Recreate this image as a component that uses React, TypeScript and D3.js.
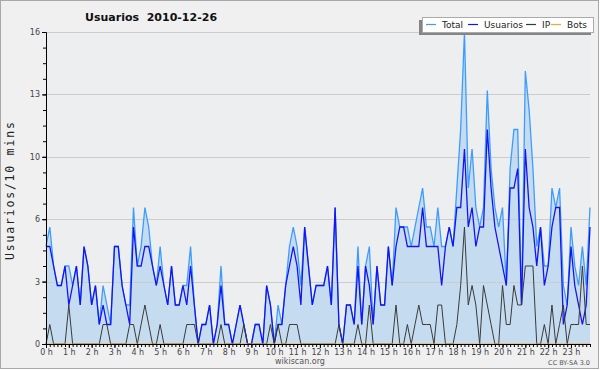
import { useEffect, useRef } from 'react';
import * as d3 from 'd3';

// one value per 10 minutes, 0h00 .. 23h50
const total = [
  5, 6, 4, 3, 3, 4, 4, 3, 4, 2, 5, 4,
  2, 3, 1, 3, 2, 1, 5, 5, 3, 2, 2, 7,
  4, 5, 7, 6, 4, 3, 5, 3, 2, 4, 2, 2,
  3, 3, 5, 2, 0, 1, 1, 2, 0, 1, 4, 1,
  1, 0, 1, 2, 1, 0, 0, 1, 1, 0, 3, 2,
  0, 2, 1, 3, 5, 6, 5, 3, 6, 4, 2, 3,
  3, 3, 4, 2, 7, 1, 0, 2, 2, 1, 5, 1,
  4, 5, 1, 4, 2, 2, 5, 3, 7, 6, 6, 6,
  5, 6, 7, 8, 6, 6, 5, 7, 5, 5, 6, 5,
  8, 11, 16, 8, 10, 7, 6, 7, 13, 9, 7, 6,
  7, 3, 9, 11, 11, 2, 14, 12, 9, 5, 6, 4,
  4, 8, 7, 8, 3, 2, 6, 4, 3, 5, 3, 7,
];
const usuarios = [
  5, 5, 4, 3, 3, 4, 2, 3, 4, 2, 5, 4,
  2, 3, 1, 2, 1, 1, 5, 5, 3, 2, 1, 6,
  4, 4, 5, 5, 4, 3, 4, 3, 2, 4, 2, 2,
  3, 2, 4, 2, 0, 1, 1, 2, 0, 1, 3, 1,
  1, 0, 1, 2, 1, 0, 0, 1, 1, 0, 3, 2,
  0, 1, 1, 3, 4, 5, 4, 2, 6, 4, 2, 3,
  3, 3, 4, 2, 7, 1, 0, 2, 2, 1, 4, 1,
  4, 3, 1, 4, 2, 2, 5, 3, 5, 6, 6, 5,
  5, 5, 5, 7, 5, 5, 5, 5, 3, 5, 6, 5,
  7, 7, 10, 6, 7, 5, 6, 6, 11, 8, 6, 5,
  4, 3, 8, 8, 9, 2, 10, 7, 6, 4, 6, 3,
  4, 6, 7, 7, 1, 2, 5, 3, 2, 1, 2, 6,
];
const ip = [
  0, 1, 0, 0, 0, 0, 2, 0, 0, 0, 0, 0,
  0, 0, 0, 1, 1, 0, 0, 0, 0, 0, 1, 1,
  0, 1, 2, 1, 0, 0, 1, 0, 0, 0, 0, 0,
  0, 1, 1, 1, 0, 0, 0, 0, 0, 0, 1, 0,
  0, 0, 0, 0, 1, 0, 0, 0, 0, 0, 0, 1,
  0, 1, 0, 0, 1, 1, 1, 0, 0, 0, 0, 0,
  0, 0, 0, 0, 0, 1, 0, 0, 0, 0, 1, 0,
  0, 2, 0, 0, 0, 0, 0, 0, 2, 0, 0, 1,
  0, 1, 2, 1, 1, 1, 0, 2, 2, 0, 0, 0,
  1, 3, 6, 2, 3, 2, 0, 3, 2, 1, 0, 0,
  3, 1, 1, 3, 2, 2, 4, 4, 4, 0, 0, 1,
  0, 2, 0, 1, 2, 0, 1, 1, 1, 4, 1, 1,
];
const bots = [
  0, 0, 0, 0, 0, 0, 0, 0, 0, 0, 0, 0,
  0, 0, 0, 0, 0, 0, 0, 0, 0, 0, 0, 0,
  0, 0, 0, 0, 0, 0, 0, 0, 0, 0, 0, 0,
  0, 0, 0, 0, 0, 0, 0, 0, 0, 0, 0, 0,
  0, 0, 0, 0, 0, 0, 0, 0, 0, 0, 0, 0,
  0, 0, 0, 0, 0, 0, 0, 0, 0, 0, 0, 0,
  0, 0, 0, 0, 0, 0, 0, 0, 0, 0, 0, 0,
  0, 0, 0, 0, 0, 0, 0, 0, 0, 0, 0, 0,
  0, 0, 0, 0, 0, 0, 0, 0, 0, 0, 0, 0,
  0, 0, 0, 0, 0, 0, 0, 0, 0, 0, 0, 0,
  0, 0, 0, 0, 0, 0, 0, 0, 0, 0, 0, 0,
  0, 0, 0, 0, 0, 0, 0, 0, 0, 0, 0, 0,
];

const hourLabels = [
  '0 h', '1 h', '2 h', '3 h', '4 h', '5 h', '6 h', '7 h', '8 h', '9 h', '10 h', '11 h',
  '12 h', '13 h', '14 h', '15 h', '16 h', '17 h', '18 h', '19 h', '20 h', '21 h', '22 h', '23 h',
];
const yMajor = [0, 3.2, 6.4, 9.6, 12.8, 16];

const legend = [
  { name: 'Total', color: '#3d9cff' },
  { name: 'Usuarios', color: '#1414f0' },
  { name: 'IP', color: '#3a3a3a' },
  { name: 'Bots', color: '#ffa42a' },
];

const FONT = '"DejaVu Sans", Verdana, sans-serif';

export default function App() {
  const width = 600;
  const height = 370;
  const marginLeft = 46;
  const marginRight = 10;
  const marginTop = 32;
  const marginBottom = 26;

  const x = d3.scaleLinear().domain([0, total.length - 1]).range([marginLeft, width - marginRight]);
  const y = d3.scaleLinear().domain([0, 16]).range([height - marginBottom, marginTop]);

  const area = d3.area<number>().x((d, i) => x(i)).y0(y(0)).y1(d => y(d));
  const line = d3.line<number>().x((d, i) => x(i)).y(d => y(d));

  const gx = useRef<SVGGElement>(null);
  const gxMinor = useRef<SVGGElement>(null);
  const gy = useRef<SVGGElement>(null);
  const gyMinor = useRef<SVGGElement>(null);

  useEffect(() => {
    if (gy.current) {
      const g = d3.select(gy.current);
      g.call(d3.axisLeft(y).tickValues(yMajor).tickSize(4).tickSizeOuter(0).tickPadding(2).tickFormat(d3.format('.0f')));
      g.attr('font-family', FONT).attr('font-size', 8);
      g.selectAll('text').attr('fill', '#444');
    }
    if (gyMinor.current) {
      d3.select(gyMinor.current)
        .call(d3.axisLeft(y).tickValues(d3.range(0, 16.01, 0.8)).tickSize(3).tickSizeOuter(0).tickFormat(() => ''));
    }
    if (gx.current) {
      const hours = hourLabels.map((_, i) => i * 6);
      const g = d3.select(gx.current);
      g.call(d3.axisBottom(x).tickValues(hours).tickSize(4).tickSizeOuter(0).tickPadding(1)
        .tickFormat((_, i) => hourLabels[i]));
      g.attr('font-family', FONT).attr('font-size', 8);
      g.selectAll('text').attr('fill', '#444');
    }
    if (gxMinor.current) {
      d3.select(gxMinor.current)
        .call(d3.axisBottom(x).tickValues(d3.range(0, total.length)).tickSize(3).tickSizeOuter(0).tickFormat(() => ''));
    }
  }, [x, y]);

  return (
    <svg width={width} height={height} style={{ position: 'absolute', left: 0, top: 0 }}>
      <rect x={0.5} y={0.5} width={width - 2} height={height - 2} fill="#f0f0f0" stroke="#a8a8a8" />
      <rect x={marginLeft} y={marginTop} width={width - marginLeft - marginRight} height={height - marginTop - marginBottom} fill="#edeef0" />

      <path d={area(total) ?? ''} fill="#c5dcf0" />
      {yMajor.slice(1).map(v => (
        <line key={v} x1={marginLeft} x2={width - marginRight} y1={Math.round(y(v)) + 0.5} y2={Math.round(y(v)) + 0.5} stroke="#cccccc" />
      ))}

      <path d={line(total) ?? ''} fill="none" stroke={legend[0].color} strokeWidth={1.3} />
      <path d={line(usuarios) ?? ''} fill="none" stroke={legend[1].color} strokeWidth={1.3} />
      <path d={line(ip) ?? ''} fill="none" stroke={legend[2].color} strokeWidth={1} />
      <path d={line(bots) ?? ''} fill="none" stroke={legend[3].color} strokeWidth={1} />

      <g ref={gyMinor} transform={`translate(${marginLeft},0)`}></g>
      <g ref={gy} transform={`translate(${marginLeft},0)`}></g>
      <g ref={gxMinor} transform={`translate(0,${height - marginBottom})`}></g>
      <g ref={gx} transform={`translate(0,${height - marginBottom})`}></g>

      <text x={85} y={21} fontFamily={FONT} fontSize={11} fontWeight="bold" fill="#111" style={{ whiteSpace: 'pre' }}>
        {'Usuarios  2010-12-26'}
      </text>
      <text
        transform={`translate(14,191) rotate(-90)`}
        textAnchor="middle"
        fontFamily='"DejaVu Sans Mono", monospace'
        fontSize={11.5}
        textLength={138}
        lengthAdjust="spacing"
        fill="#222"
      >
        Usuarios/10 mins
      </text>
      <text x={300} y={364} textAnchor="middle" fontFamily={FONT} fontSize={8} fill="#555">wikiscan.org</text>
      <text x={590} y={365} textAnchor="end" fontFamily={FONT} fontSize={6.5} fill="#555">CC BY-SA 3.0</text>

      <g>
        <rect x={419} y={20} width={172} height={15} fill="#858585" />
        <rect x={422.5} y={17.5} width={171} height={15} fill="#ffffff" stroke="#aaaaaa" />
        {legend.map((d, i) => {
          const starts = [426, 468, 526, 551];
          const x0 = starts[i];
          return (
            <g key={d.name}>
              <line x1={x0} x2={x0 + 10} y1={24.5} y2={24.5} stroke={d.color} strokeWidth={1.2} />
              <text x={x0 + 16} y={28} fontFamily={FONT} fontSize={9} fill="#222">{d.name}</text>
            </g>
          );
        })}
      </g>
    </svg>
  );
}
